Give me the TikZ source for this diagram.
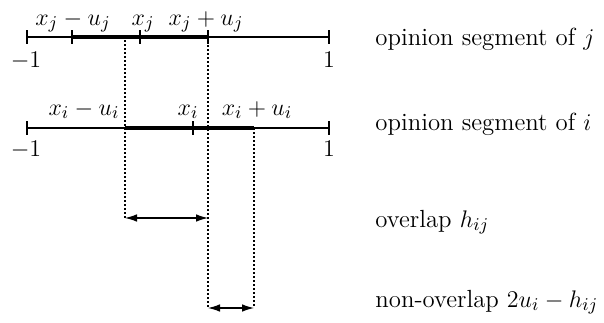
\documentclass[tikz,border=0pt,12pt]{standalone}
\usetikzlibrary{arrows.meta}
\begin{document}
\begin{tikzpicture}[x=0.5pt,y=-0.5pt,
  font=\fontsize{12.4}{15}\selectfont,
  axis/.style={line width=0.55pt},
  seg/.style={line width=1.9pt},
  tickmark/.style={line width=0.55pt},
  guide/.style={line width=0.6pt,dash pattern=on 1pt off 1pt},
  meas/.style={line width=0.6pt,{Latex[length=6pt,width=3.8pt]}-{Latex[length=6pt,width=3.8pt]}},
  lbl/.style={anchor=base,inner sep=0pt},
  txt/.style={anchor=base west,inner sep=0pt}]
\useasboundingbox (0,0) rectangle (604,322);
% line j
\coordinate (jL) at (27,37);
\coordinate (jR) at (329,37);
\coordinate (jA) at (72,37);
\coordinate (jC) at (140,37);
\coordinate (jB) at (208,37);
\draw[axis] (jL) -- (jR);
\draw[seg] (jA) -- (jB);
\foreach \p in {jL,jR,jA,jC,jB} \draw[tickmark] ([yshift=3.3pt]\p) -- ([yshift=-3.3pt]\p);
\node[lbl] (ljA) at (73,25) {$x_j-u_j$};
\node[lbl] (ljC) at (143,25) {$x_j$};
\node[lbl] (ljB) at (206,25) {$x_j+u_j$};
\node[lbl] (ljL) at (26,67) {$-1$};
\node[lbl] (ljR) at (329,67) {$1$};
% line i
\coordinate (iL) at (27,128);
\coordinate (iR) at (329,128);
\coordinate (iA) at (125,128);
\coordinate (iC) at (193,128);
\coordinate (iB) at (254,128);
\draw[axis] (iL) -- (iR);
\draw[seg] (iA) -- (iB);
\foreach \p in {iL,iR,iC} \draw[tickmark] ([yshift=3.3pt]\p) -- ([yshift=-3.3pt]\p);
\node[lbl] (liA) at (84,115) {$x_i-u_i$};
\node[lbl] (liC) at (188,115) {$x_i$};
\node[lbl] (liB) at (257,115) {$x_i+u_i$};
\node[lbl] (liL) at (26,156) {$-1$};
\node[lbl] (liR) at (329,156) {$1$};
% guides
\coordinate (g1t) at (125,40);
\coordinate (g1b) at (125,218);
\coordinate (g2b) at (208,308);
\coordinate (g3b) at (254,308);
\draw[guide] (g1t) -- (g1b);
\draw[guide] (jB) -- (g2b);
\draw[guide] (iB) -- (g3b);
% measures
\coordinate (m1b) at (208,218);
\draw[meas] (g1b) -- (m1b);
\draw[meas] (g2b) -- (g3b);
% texts
\node[txt] (tj) at (375,45) {opinion segment of $j$};
\node[txt] (ti) at (375,130) {opinion segment of $i$};
\node[txt] (to) at (375,227) {overlap $h_{ij}$};
\node[txt] (tn) at (375,307) {non-overlap $2u_i-h_{ij}$};
\end{tikzpicture}
\end{document}
